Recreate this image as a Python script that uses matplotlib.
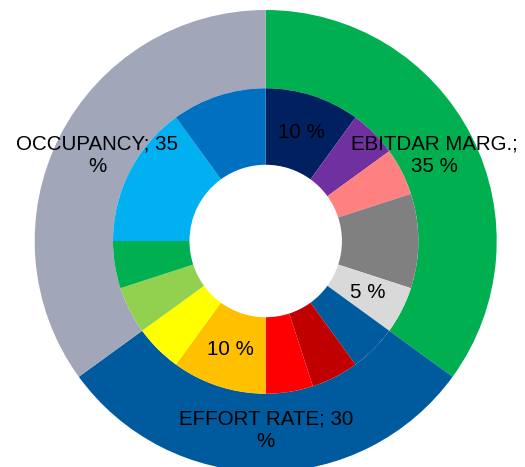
import numpy as np
import matplotlib
matplotlib.use("Agg")
import matplotlib.pyplot as plt

plt.rcParams["font.family"] = ["Liberation Sans", "DejaVu Sans"]

# outer ring: groups
outer_labels = ["EBITDAR MARG.;\n35 %", "EFFORT RATE; 30\n%", "OCCUPANCY; 35\n%"]
outer_values = [35, 30, 35]
outer_colors = ["#00B050", "#005A9E", "#A1A6B9"]

# inner ring: sub-items (clockwise from top)
inner_values = [10, 5, 5, 10, 5,  5, 5, 5, 10, 5,  5, 5, 15, 10]
inner_labels = ["10 %", "", "", "", "5 %", "", "", "", "10 %", "", "", "", "", ""]
inner_colors = ["#002060", "#7030A0", "#FF8080", "#808080", "#D9D9D9",
                "#005A9E", "#C00000", "#FF0000", "#FFC000", "#FFFF00",
                "#92D050", "#00B050", "#00B0F0", "#0070C0"]

W, H, DPI = 525, 467, 100
cx, cy, R = 265.7, 241.0, 231.0  # centre and outer radius in pixels

fig = plt.figure(figsize=(W / DPI, H / DPI), dpi=DPI)
ax = fig.add_axes([0, 0, 1, 1])
ax.set_aspect("equal")
ax.axis("off")

r_mid = 0.661
r_hole = 0.330

outer_wedges, _ = ax.pie(outer_values, radius=1.0, colors=outer_colors,
                         startangle=90, counterclock=False,
                         wedgeprops={"width": 1.0 - r_mid, "linewidth": 0})
inner_wedges, _ = ax.pie(inner_values, radius=r_mid, colors=inner_colors,
                         startangle=90, counterclock=False,
                         wedgeprops={"width": r_mid - r_hole, "linewidth": 0})
ax.set_xlim(-cx / R, (W - cx) / R)
ax.set_ylim(-(H - cy) / R, cy / R)


def put_labels(wedges, labels, dist):
    for w, lab in zip(wedges, labels):
        if not lab:
            continue
        ang = np.deg2rad((w.theta1 + w.theta2) / 2)
        ax.text(dist * np.cos(ang), dist * np.sin(ang), lab, ha="center",
                va="center", fontsize=14.8, color="black", linespacing=1.25)


put_labels(outer_wedges, outer_labels, 0.82)
put_labels(inner_wedges, inner_labels, (r_mid + r_hole) / 2)

fig.savefig("out.png", dpi=DPI)
plt.close(fig)
